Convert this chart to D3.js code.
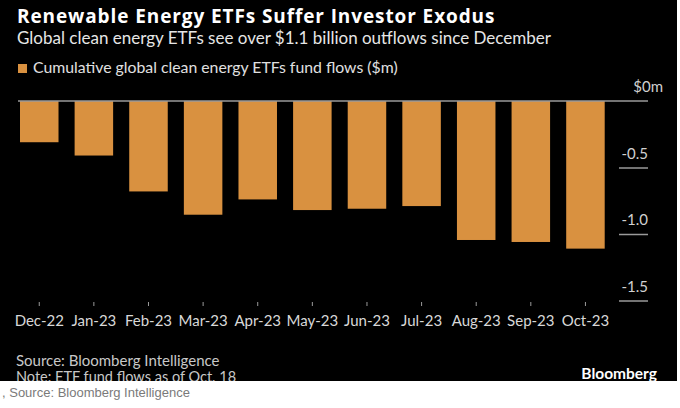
<!DOCTYPE html>
<html>
<head>
<meta charset="utf-8">
<script src="https://cdn.jsdelivr.net/npm/d3@7"></script>
<style>
html,body{margin:0;padding:0;background:#fff;}
svg{display:block;}
</style>
</head>
<body>
<svg id="chart" width="680" height="408"></svg>
<script>
const categories = ["Dec-22","Jan-23","Feb-23","Mar-23","Apr-23","May-23","Jun-23","Jul-23","Aug-23","Sep-23","Oct-23"];
const flows = [-0.31,-0.41,-0.68,-0.855,-0.74,-0.82,-0.81,-0.79,-1.045,-1.06,-1.11];
const yTicks = [0,-0.5,-1.0,-1.5];
const title = "Renewable Energy ETFs Suffer Investor Exodus";
const subtitle = "Global clean energy ETFs see over $1.1 billion outflows since December";
const legendLabel = "Cumulative global clean energy ETFs fund flows ($m)";
const sourceText = "Source: Bloomberg Intelligence";
const noteText = "Note: ETF fund flows as of Oct. 18";
const captionText = ", Source: Bloomberg Intelligence";

const FONT = "Lato, 'Liberation Sans', sans-serif";
const BAR = "#d99140";
const svg = d3.select("#chart");

svg.append("defs").append("clipPath").attr("id","panel")
  .append("rect").attr("x",0).attr("y",0).attr("width",677).attr("height",381);

const g = svg.append("g").attr("clip-path","url(#panel)");
g.append("rect").attr("x",0).attr("y",0).attr("width",677).attr("height",381).attr("fill","#000");

g.append("text").attr("x",17).attr("y",23).text(title)
  .attr("font-family","'Open Sans', Lato, sans-serif").attr("font-weight",700).attr("font-size",19)
  .attr("letter-spacing",0.9).attr("fill","#fff");
g.append("text").attr("x",17).attr("y",44).text(subtitle)
  .attr("font-family",FONT).attr("font-size",17).attr("fill","#e6e6e6");
g.append("rect").attr("x",18).attr("y",64).attr("width",9).attr("height",9).attr("fill",BAR);
g.append("text").attr("x",33).attr("y",73).text(legendLabel)
  .attr("font-family",FONT).attr("font-size",15.8).attr("fill","#e0e0e0");

const x = d3.scaleBand().domain(categories).range([20,604.7]).paddingInner(0.295).paddingOuter(0);
const y = d3.scaleLinear().domain([-1.5,0]).range([300.5,101]);

// bars
g.selectAll("rect.bar").data(flows).join("rect").attr("class","bar")
  .attr("x",(d,i)=>x(categories[i]))
  .attr("width",x.bandwidth())
  .attr("y",y(0))
  .attr("height",d=>y(d)-y(0))
  .attr("fill",BAR);

// zero line
g.append("line").attr("x1",18).attr("x2",648).attr("y1",y(0)).attr("y2",y(0))
  .attr("stroke","#9a9a9a").attr("stroke-width",1.5);

// y axis
const yAxis = d3.axisRight(y).tickValues(yTicks.filter(d=>d!==0)).tickSize(29)
  .tickFormat(d=>d.toFixed(1));
const ya = g.append("g").attr("transform","translate(619,0)").call(yAxis);
ya.select(".domain").remove();
ya.selectAll(".tick line").attr("stroke","#9a9a9a").attr("stroke-width",1.5);
ya.selectAll(".tick text").attr("x",29).attr("dy",-9.5).attr("text-anchor","end")
  .attr("font-family",FONT).attr("font-size",15).attr("fill","#d0d0d0");
g.append("text").attr("x",663).attr("y",y(0)-9).attr("text-anchor","end").text("$0m")
  .attr("font-family",FONT).attr("font-size",15).attr("fill","#d0d0d0");

// x axis
const xAxis = d3.axisBottom(x).tickSize(4).tickPadding(0);
const xa = g.append("g").attr("transform","translate(0,302)").call(xAxis);
xa.select(".domain").remove();
xa.selectAll(".tick line").attr("stroke","#9a9a9a").attr("stroke-width",1);
xa.selectAll(".tick text").attr("y",24).attr("dy",0)
  .attr("font-family",FONT).attr("font-size",15).attr("fill","#d8d8d8");

// footer
g.append("text").attr("x",16).attr("y",366).text(sourceText)
  .attr("font-family",FONT).attr("font-size",15).attr("fill","#c8c8c8");
g.append("text").attr("x",16).attr("y",382).text(noteText)
  .attr("font-family",FONT).attr("font-size",14.5).attr("fill","#c8c8c8");
g.append("text").attr("x",657).attr("y",379).attr("text-anchor","end").text("Bloomberg")
  .attr("font-family",FONT).attr("font-weight",700).attr("font-size",15.5).attr("fill","#fff");

svg.append("text").attr("x",2).attr("y",397).text(captionText)
  .attr("font-family","'Liberation Sans', Arial, sans-serif").attr("font-size",13).attr("fill","#7a7a7a");
</script>
</body>
</html>
